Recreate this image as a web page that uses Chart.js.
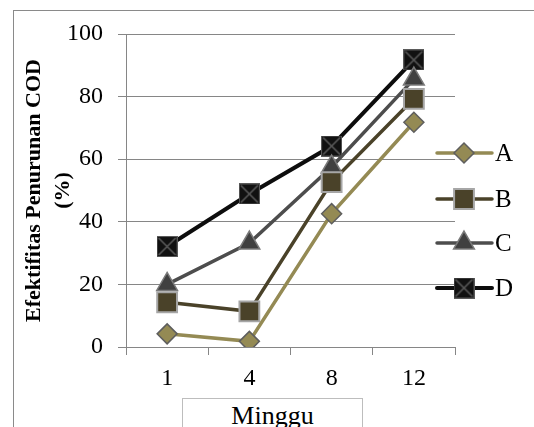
<!DOCTYPE html>
<html>
<head>
<meta charset="utf-8">
<script src="https://cdn.jsdelivr.net/npm/chart.js@4/dist/chart.umd.min.js"></script>
<style>
  html, body { margin: 0; padding: 0; background: #fff; }
  #wrap { position: relative; width: 534px; height: 427px; overflow: hidden; background: #fff; }
  #frame { position: absolute; left: 13px; top: 10px; width: 700px; height: 600px;
           border: 1px solid #8a8a8a; box-sizing: border-box; }
  #chart { position: absolute; left: 0; top: 0; }
  #xtitle { position: absolute; left: 182px; top: 398px; width: 181px; height: 60px;
            border: 1px solid #bdbdbd; box-sizing: border-box; background: #fff;
            font-family: 'Liberation Serif', 'Times New Roman', serif; font-size: 26px;
            text-align: center; line-height: 30px; padding-top: 2px; color: #000; }
</style>
</head>
<body>
<div id="wrap">
  <div id="frame"></div>
  <canvas id="chart" width="534" height="427"></canvas>
  <div id="xtitle">Minggu</div>
</div>
<script>
// Weeks of observation
const weeks = ['1', '4', '8', '12'];
// COD removal efficiency (%) per treatment
const seriesA = [4.2, 1.8, 42.6, 71.8];
const seriesB = [14.3, 11.4, 52.7, 79.3];
const seriesC = [20.0, 33.2, 57.5, 85.6];
const seriesD = [32.1, 48.9, 64.2, 91.7];
const seriesNames = ['A', 'B', 'C', 'D'];
const yTicks = [0, 20, 40, 60, 80, 100];

const SERIF = "'Liberation Serif', 'Times New Roman', serif";

// Black square with a grey cross, used as the D marker
function crossSquare(size) {
  const c = document.createElement('canvas');
  c.width = size; c.height = size;
  const g = c.getContext('2d');
  g.fillStyle = '#111111';
  g.fillRect(0, 0, size, size);
  g.strokeStyle = '#5a5a5a';
  g.lineWidth = 1;
  g.strokeRect(0.5, 0.5, size - 1, size - 1);
  g.lineWidth = 1.6;
  g.beginPath();
  g.moveTo(2, 2); g.lineTo(size - 2, size - 2);
  g.moveTo(size - 2, 2); g.lineTo(2, size - 2);
  g.stroke();
  return c;
}
const markerD = crossSquare(21);

const datasets = [
  { label: seriesNames[0], data: seriesA, borderColor: '#948A54', backgroundColor: '#948A54',
    borderWidth: 3.5, pointStyle: 'rectRot', pointRadius: 10, pointBorderColor: '#5e5e5e',
    pointBackgroundColor: '#948A54', pointBorderWidth: 1.5 },
  { label: seriesNames[1], data: seriesB, borderColor: '#4A4229', backgroundColor: '#4A4229',
    borderWidth: 3.5, pointStyle: 'rect', pointRadius: 14, pointBorderColor: '#a6a6a6',
    pointBackgroundColor: '#4A4229', pointBorderWidth: 2 },
  { label: seriesNames[2], data: seriesC, borderColor: '#4D4D4D', backgroundColor: '#404040',
    borderWidth: 3.5, pointStyle: 'triangle', pointRadius: 12, pointBorderColor: '#7a7a7a',
    pointBackgroundColor: '#404040', pointBorderWidth: 1.5 },
  { label: seriesNames[3], data: seriesD, borderColor: '#0D0D0D', backgroundColor: '#0D0D0D',
    borderWidth: 4, pointStyle: markerD, pointRadius: 10, pointBorderWidth: 0 }
];

// Legend drawn as a short line with the series marker in the middle
const lineLegend = {
  id: 'lineLegend',
  afterDraw(chart) {
    const ctx = chart.ctx;
    const rows = [153, 199, 243, 288];
    const x0 = 437, x1 = 492, xm = 464;
    chart.data.datasets.forEach((ds, i) => {
      const y = rows[i];
      ctx.save();
      ctx.strokeStyle = ds.borderColor;
      ctx.lineWidth = ds.borderWidth;
      ctx.lineCap = 'round';
      ctx.beginPath();
      ctx.moveTo(x0, y); ctx.lineTo(x1, y);
      ctx.stroke();
      ctx.fillStyle = ds.pointBackgroundColor || ds.backgroundColor;
      ctx.strokeStyle = ds.pointBorderColor || ds.borderColor;
      ctx.lineWidth = ds.pointBorderWidth;
      Chart.helpers.drawPoint(ctx, {
        pointStyle: ds.pointStyle, radius: ds.pointRadius, rotation: 0,
        borderWidth: ds.pointBorderWidth
      }, xm, y);
      ctx.fillStyle = '#000';
      ctx.font = '25px ' + SERIF;
      ctx.textBaseline = 'middle';
      ctx.textAlign = 'left';
      ctx.fillText(ds.label, 495, y + 1);
      ctx.restore();
    });
  }
};

new Chart(document.getElementById('chart'), {
  type: 'line',
  data: { labels: weeks, datasets },
  plugins: [lineLegend],
  options: {
    responsive: false,
    animation: false,
    devicePixelRatio: 1,
    layout: { padding: { left: 0, top: 34, right: 79, bottom: 0 } },
    plugins: { legend: { display: false }, tooltip: { enabled: false } },
    elements: { line: { tension: 0 } },
    scales: {
      x: {
        offset: true,
        grid: { offset: true, drawOnChartArea: false, drawTicks: true, tickLength: 8,
                color: '#868686', lineWidth: 1 },
        border: { color: '#868686', width: 1 },
        ticks: { color: '#000', padding: 9, font: { family: SERIF, size: 24 } },
        afterFit(scale) { scale.height = 80; }
      },
      y: {
        min: 0, max: 100,
        afterBuildTicks(scale) { scale.ticks = yTicks.map(v => ({ value: v })); },
        grid: { color: '#868686', lineWidth: 1, tickLength: 8, drawTicks: true },
        border: { color: '#868686', width: 1 },
        ticks: { color: '#000', padding: 15, font: { family: SERIF, size: 24 } },
        title: {
          display: true,
          text: ['Efektifitas Penurunan COD', '(%)'],
          color: '#000',
          font: { family: SERIF, size: 22, weight: 'bold', lineHeight: '29px' },
          padding: { top: 20, bottom: 0 }
        },
        afterFit(scale) { scale.width = 126; }
      }
    }
  }
});
</script>
</body>
</html>
